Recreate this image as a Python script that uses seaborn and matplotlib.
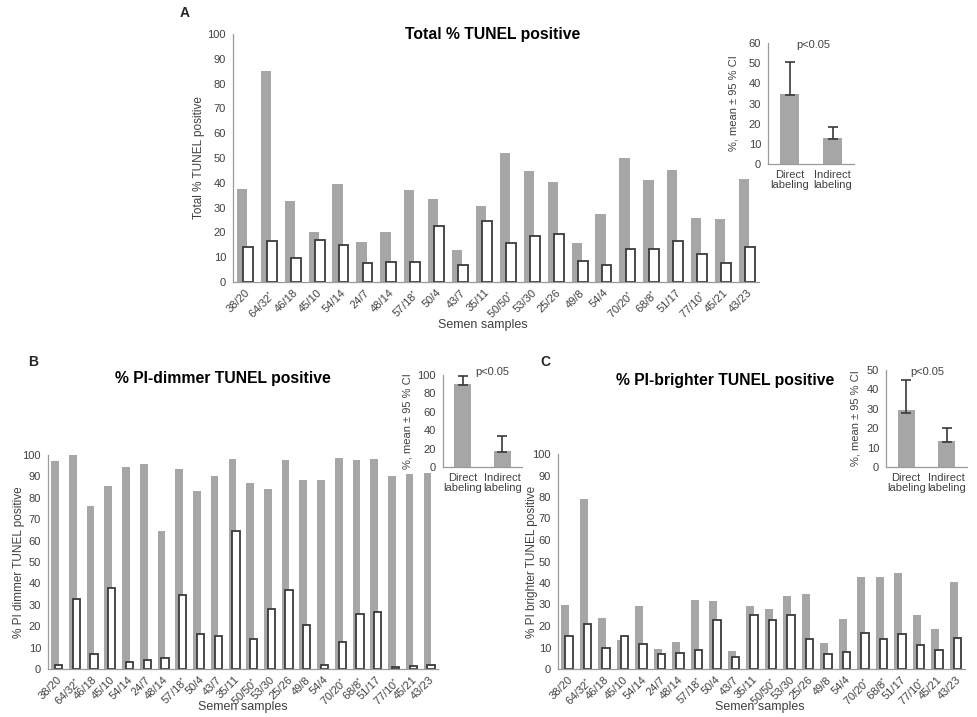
import numpy as np
import pandas as pd
import matplotlib
matplotlib.use("Agg")
import matplotlib.pyplot as plt
import seaborn as sns

# ── Data ──────────────────────────────────────────────────────────────────────
samples = ["38/20", "64/32*", "46/18", "45/10", "54/14", "24/7", "48/14", "57/18*",
           "50/4", "43/7", "35/11", "50/50*", "53/30", "25/26", "49/8", "54/4",
           "70/20*", "68/8*", "51/17", "77/10*", "45/21", "43/23"]

total_direct = [37.5, 85, 32.5, 20, 39.5, 16, 20, 37, 33.5, 13, 30.5, 52, 44.7, 40.3,
                15.7, 27.5, 50, 41, 45, 25.8, 25.5, 41.5]
total_indirect = [14, 16.5, 9.7, 17, 15, 7.7, 8, 8, 22.5, 7, 24.5, 15.7, 18.5, 19.3,
                  8.5, 7, 13.5, 13.2, 16.7, 11.4, 7.7, 14.2]

dimmer_direct = [97.4, 100, 76.3, 85.7, 94.5, 96, 64.6, 93.6, 83.2, 90.3, 98.1, 87.1,
                 84.3, 97.8, 88.5, 88.5, 98.8, 97.8, 98.3, 90, 91.3, 91.6]
dimmer_indirect = [1.9, 32.9, 7.2, 38, 3.4, 4.4, 5.3, 34.7, 16.2, 15.6, 64.6, 14.2,
                   27.9, 37.1, 20.4, 2, 12.5, 25.5, 26.8, 1.1, 1.2, 2]

brighter_direct = [30, 79.3, 23.5, 13.7, 29.5, 9.5, 12.4, 32.3, 31.8, 8.5, 29.2, 28.1,
                   33.9, 35.1, 12, 23.4, 42.7, 42.7, 44.6, 25, 18.5, 40.4]
brighter_indirect = [15.5, 21.1, 9.8, 15.5, 11.8, 6.8, 7.6, 9, 23, 5.7, 25, 23, 25,
                     14.1, 6.8, 7.8, 16.9, 14.1, 16.5, 11, 8.7, 14.6]

methods = ["Direct\nlabeling", "Indirect\nlabeling"]
total_mean, total_lo, total_hi = [34.5, 12.7], [34, 12.2], [50.7, 18.2]
dimmer_mean, dimmer_lo, dimmer_hi = [90.5, 17.5], [89.4, 16.4], [99.3, 33.6]
brighter_mean, brighter_lo, brighter_hi = [29.2, 13.5], [27.9, 13], [45, 20.1]

# ── Style ─────────────────────────────────────────────────────────────────────
sns.set_style("white")
plt.rcParams["font.family"] = ["Liberation Sans", "DejaVu Sans"]
plt.rcParams["mathtext.default"] = "regular"

GRAY = "#A6A6A6"
EDGE = "#3A3A3A"
AXIS = "#9A9A9A"
TEXT = "#404040"

W, H = 977, 717
fig = plt.figure(figsize=(W / 100, H / 100), dpi=100)


def axes_px(l, t, r, b):
    return fig.add_axes([l / W, 1 - b / H, (r - l) / W, (b - t) / H])


def text_px(x, y, s, **kw):
    fig.text(x / W, 1 - y / H, s, **kw)


def fmt_label(s):
    return s.replace("*", r"$^{*}$")


def style_axes(ax):
    sns.despine(ax=ax)
    for sp in ("left", "bottom"):
        ax.spines[sp].set_color(AXIS)
        ax.spines[sp].set_linewidth(0.9)
    ax.tick_params(axis="y", length=3, width=0.8, color=AXIS, labelsize=8,
                   labelcolor=TEXT, pad=2)
    ax.set_xlabel("")
    ax.set_ylabel("")


def draw_main(ax, direct, indirect, shift):
    sns.barplot(x=samples, y=direct, color=GRAY, saturation=1, width=0.43,
                linewidth=0, ax=ax)
    n0 = len(ax.patches)
    for p in ax.patches:
        p.set_x(p.get_x() - shift)
    sns.barplot(x=samples, y=indirect, color="white", saturation=1, width=0.41,
                edgecolor=EDGE, linewidth=1.3, ax=ax)
    for p in ax.patches[n0:]:
        p.set_x(p.get_x() + shift)
    ax.set_xlim(-0.5, len(samples) - 0.5)
    ax.set_ylim(0, 100)
    ax.set_yticks(range(0, 101, 10))
    ax.set_xticks(range(len(samples)))
    ax.set_xticklabels([fmt_label(s) for s in samples], rotation=45, ha="right",
                       rotation_mode="anchor", fontsize=8, color=TEXT)
    ax.set_xticks(np.arange(-0.5, len(samples), 1), minor=True)
    ax.tick_params(axis="x", which="major", length=0, pad=4)
    ax.tick_params(axis="x", which="minor", length=3, width=0.8, color=AXIS)
    style_axes(ax)


def draw_inset(ax, mean, lo, hi, ymax, step):
    sns.barplot(x=methods, y=mean, color=GRAY, saturation=1, width=0.42,
                linewidth=0, ax=ax)
    xs = [p.get_x() + p.get_width() / 2 for p in ax.patches]
    ax.errorbar(xs, mean, yerr=[np.array(mean) - np.array(lo), np.array(hi) - np.array(mean)],
                fmt="none", ecolor=EDGE, elinewidth=1.2, capsize=3.5, capthick=1.2)
    ax.set_xlim(-0.5, 1.5)
    ax.set_ylim(0, ymax)
    ax.set_yticks(range(0, ymax + 1, step))
    ax.set_xticks([0, 1])
    ax.set_xticklabels(methods, fontsize=8, color=TEXT, linespacing=1.1)
    ax.set_xticks([0.5, 1.5], minor=True)
    ax.tick_params(axis="x", which="major", length=0, pad=4)
    ax.tick_params(axis="x", which="minor", length=3, width=0.8, color=AXIS)
    style_axes(ax)


# ── Panel A ───────────────────────────────────────────────────────────────────
axA = axes_px(233, 34, 759, 282)
draw_main(axA, total_direct, total_indirect, 0.125)
text_px(493, 34, "Total % TUNEL positive", fontsize=11.3, fontweight="bold",
        color="black", ha="center", va="center")
text_px(199, 158, "Total % TUNEL positive", rotation=90, fontsize=8.5, color=TEXT,
        ha="center", va="center")
text_px(483, 325, "Semen samples", fontsize=9, color=TEXT, ha="center", va="center")
text_px(185, 13, "A", fontsize=10, fontweight="bold", ha="center", va="center")

axAi = axes_px(768, 43, 854, 164)
draw_inset(axAi, total_mean, total_lo, total_hi, 60, 10)
text_px(733, 103, "%, mean ± 95 % CI", rotation=90, fontsize=8, color=TEXT,
        ha="center", va="center")
text_px(813, 45, "p<0.05", fontsize=8, color=TEXT, ha="center", va="center")

# ── Panel B ───────────────────────────────────────────────────────────────────
axB = axes_px(48, 455, 438, 669)
draw_main(axB, dimmer_direct, dimmer_indirect, 0.1)
text_px(223, 379, "% PI-dimmer TUNEL positive", fontsize=11.3, fontweight="bold",
        color="black", ha="center", va="center")
text_px(19, 562, "% PI dimmer TUNEL positive", rotation=90, fontsize=8.5, color=TEXT,
        ha="center", va="center")
text_px(243, 707, "Semen samples", fontsize=9, color=TEXT, ha="center", va="center")
text_px(33, 362, "B", fontsize=10, fontweight="bold", ha="center", va="center")

axBi = axes_px(443, 375, 522, 467)
draw_inset(axBi, dimmer_mean, dimmer_lo, dimmer_hi, 100, 20)
text_px(407, 421, "%, mean ± 95 % CI", rotation=90, fontsize=8, color=TEXT,
        ha="center", va="center")
text_px(492, 372, "p<0.05", fontsize=8, color=TEXT, ha="center", va="center")

# ── Panel C ───────────────────────────────────────────────────────────────────
axC = axes_px(558, 454, 965, 669)
draw_main(axC, brighter_direct, brighter_indirect, 0.1)
text_px(725, 380, "% PI-brighter TUNEL positive", fontsize=11.3, fontweight="bold",
        color="black", ha="center", va="center")
text_px(532, 562, "% PI brighter TUNEL positive", rotation=90, fontsize=8.5, color=TEXT,
        ha="center", va="center")
text_px(760, 707, "Semen samples", fontsize=9, color=TEXT, ha="center", va="center")
text_px(545, 362, "C", fontsize=10, fontweight="bold", ha="center", va="center")

axCi = axes_px(886, 370, 967, 467)
draw_inset(axCi, brighter_mean, brighter_lo, brighter_hi, 50, 10)
text_px(855, 418, "%, mean ± 95 % CI", rotation=90, fontsize=8, color=TEXT,
        ha="center", va="center")
text_px(927, 372, "p<0.05", fontsize=8, color=TEXT, ha="center", va="center")

fig.savefig("out.png", dpi=100, facecolor="white")
